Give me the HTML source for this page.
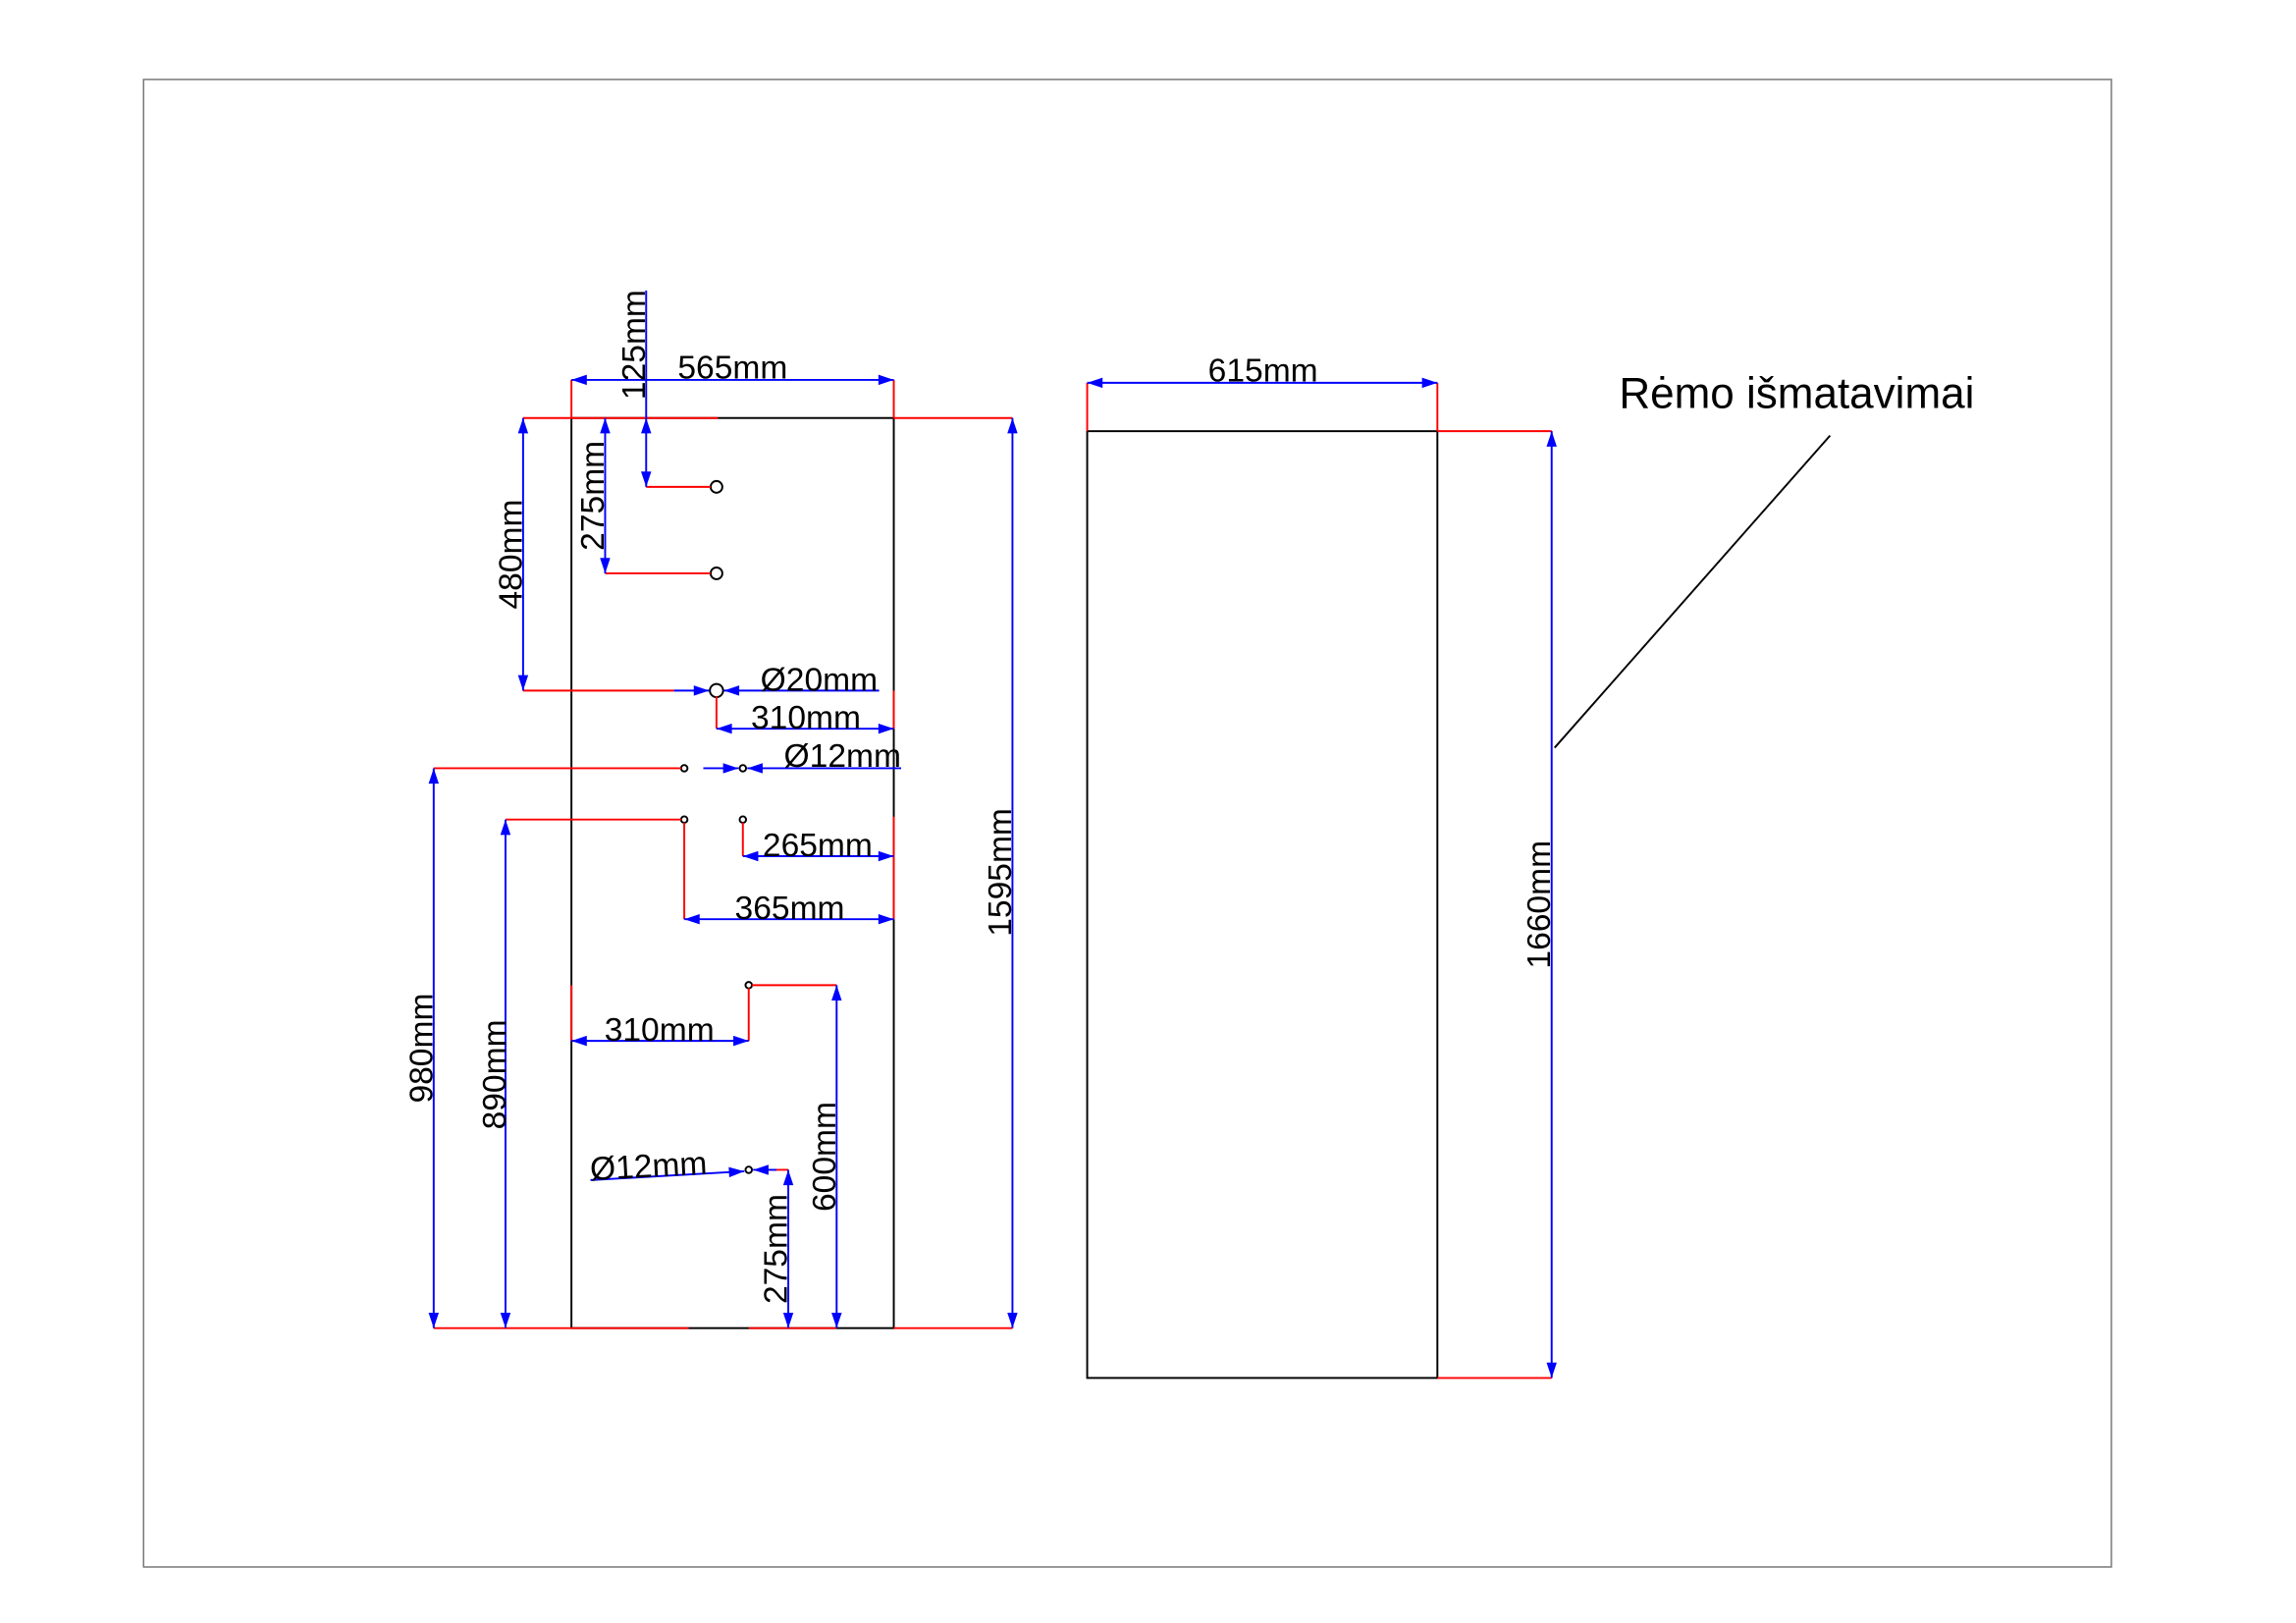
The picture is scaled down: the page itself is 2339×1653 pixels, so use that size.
<!DOCTYPE html>
<html><head><meta charset="utf-8"><style>html,body{margin:0;padding:0;background:#fff}svg{display:block}</style></head>
<body>
<svg width="2339" height="1653" viewBox="0 0 1567 1107" xmlns="http://www.w3.org/2000/svg" font-family="Liberation Sans, sans-serif">
<defs>
<marker id="a" viewBox="0 0 12 8" refX="12" refY="4" markerWidth="13" markerHeight="7" markerUnits="userSpaceOnUse" orient="auto-start-reverse"><path d="M0,0 L12,4 L0,8 z" fill="#00f"/></marker>
</defs>
<rect x="98" y="54" width="1343" height="1015" fill="none" stroke="#777" stroke-width="1"/>
<g fill="none" stroke="#000" stroke-width="1.3">
<rect x="390" y="285" width="220" height="621"/>
<rect x="742" y="294" width="239" height="646"/>
<line x1="1249" y1="297" x2="1061" y2="510"/>
<circle cx="489" cy="332" r="4"/><circle cx="489" cy="391" r="4"/><circle cx="489" cy="471" r="4.5"/>
<circle cx="467" cy="524" r="2.2"/><circle cx="507" cy="524" r="2.2"/>
<circle cx="467" cy="559" r="2.2"/><circle cx="507" cy="559" r="2.2"/>
<circle cx="511" cy="672" r="2.2"/><circle cx="511" cy="798" r="2.2"/>
</g>
<g stroke="#f00" stroke-width="1.3" fill="none">
<path d="M390 259V285M610 259V285M357 285H490M441 332H485M413 391H485M357 471H460M489 475V497M610 471V497M296 524H465M345 559H465M507 561V584M610 557V627M467 561V627M390 672V710M511 674V710M513 672H571M515 798H538M610 285H691M296 906H470M511 906H571M610 906H691M742 261V294M981 261V294M981 294H1059M981 940H1059"/>
</g>
<g stroke="#00f" stroke-width="1.3" fill="none">
<line x1="390" y1="259" x2="610" y2="259" marker-start="url(#a)" marker-end="url(#a)"/>
<line x1="441" y1="198" x2="441" y2="285"/>
<line x1="441" y1="285" x2="441" y2="332" marker-start="url(#a)" marker-end="url(#a)"/>
<line x1="413" y1="285" x2="413" y2="391" marker-start="url(#a)" marker-end="url(#a)"/>
<line x1="357" y1="285" x2="357" y2="471" marker-start="url(#a)" marker-end="url(#a)"/>
<line x1="460" y1="471" x2="484" y2="471" marker-end="url(#a)"/>
<line x1="600" y1="471" x2="494" y2="471" marker-end="url(#a)"/>
<line x1="489" y1="497" x2="610" y2="497" marker-start="url(#a)" marker-end="url(#a)"/>
<line x1="480" y1="524" x2="504" y2="524" marker-end="url(#a)"/>
<line x1="615" y1="524" x2="510" y2="524" marker-end="url(#a)"/>
<line x1="296" y1="524" x2="296" y2="906" marker-start="url(#a)" marker-end="url(#a)"/>
<line x1="345" y1="559" x2="345" y2="906" marker-start="url(#a)" marker-end="url(#a)"/>
<line x1="507" y1="584" x2="610" y2="584" marker-start="url(#a)" marker-end="url(#a)"/>
<line x1="467" y1="627" x2="610" y2="627" marker-start="url(#a)" marker-end="url(#a)"/>
<line x1="390" y1="710" x2="511" y2="710" marker-start="url(#a)" marker-end="url(#a)"/>
<line x1="571" y1="672" x2="571" y2="906" marker-start="url(#a)" marker-end="url(#a)"/>
<line x1="403" y1="805" x2="508" y2="799" marker-end="url(#a)"/>
<line x1="530" y1="798" x2="514" y2="798" marker-end="url(#a)"/>
<line x1="538" y1="798" x2="538" y2="906" marker-start="url(#a)" marker-end="url(#a)"/>
<line x1="691" y1="285" x2="691" y2="906" marker-start="url(#a)" marker-end="url(#a)"/>
<line x1="742" y1="261" x2="981" y2="261" marker-start="url(#a)" marker-end="url(#a)"/>
<line x1="1059" y1="294" x2="1059" y2="940" marker-start="url(#a)" marker-end="url(#a)"/>
</g>
<g font-size="22.5" fill="#000" text-anchor="middle">
<text x="500" y="258">565mm</text>
<text x="862" y="260">615mm</text>
<text x="559" y="471">Ø20mm</text>
<text x="550" y="497">310mm</text>
<text x="575" y="523">Ø12mm</text>
<text x="558" y="584">265mm</text>
<text x="539" y="627">365mm</text>
<text x="450" y="710">310mm</text>
<text x="443" y="803" transform="rotate(-3 443 803)">Ø12mm</text>
<text transform="translate(440 235) rotate(-90)">125mm</text>
<text transform="translate(412 338) rotate(-90)">275mm</text>
<text transform="translate(356 378) rotate(-90)">480mm</text>
<text transform="translate(295 715) rotate(-90)">980mm</text>
<text transform="translate(345 733) rotate(-90)">890mm</text>
<text transform="translate(570 789) rotate(-90)">600mm</text>
<text transform="translate(537 852) rotate(-90)">275mm</text>
<text transform="translate(690 595) rotate(-90)">1595mm</text>
<text transform="translate(1058 617) rotate(-90)">1660mm</text>
</g>
<text x="1105" y="278" font-size="29.5" fill="#000">Rėmo išmatavimai</text>
</svg>
</body></html>
